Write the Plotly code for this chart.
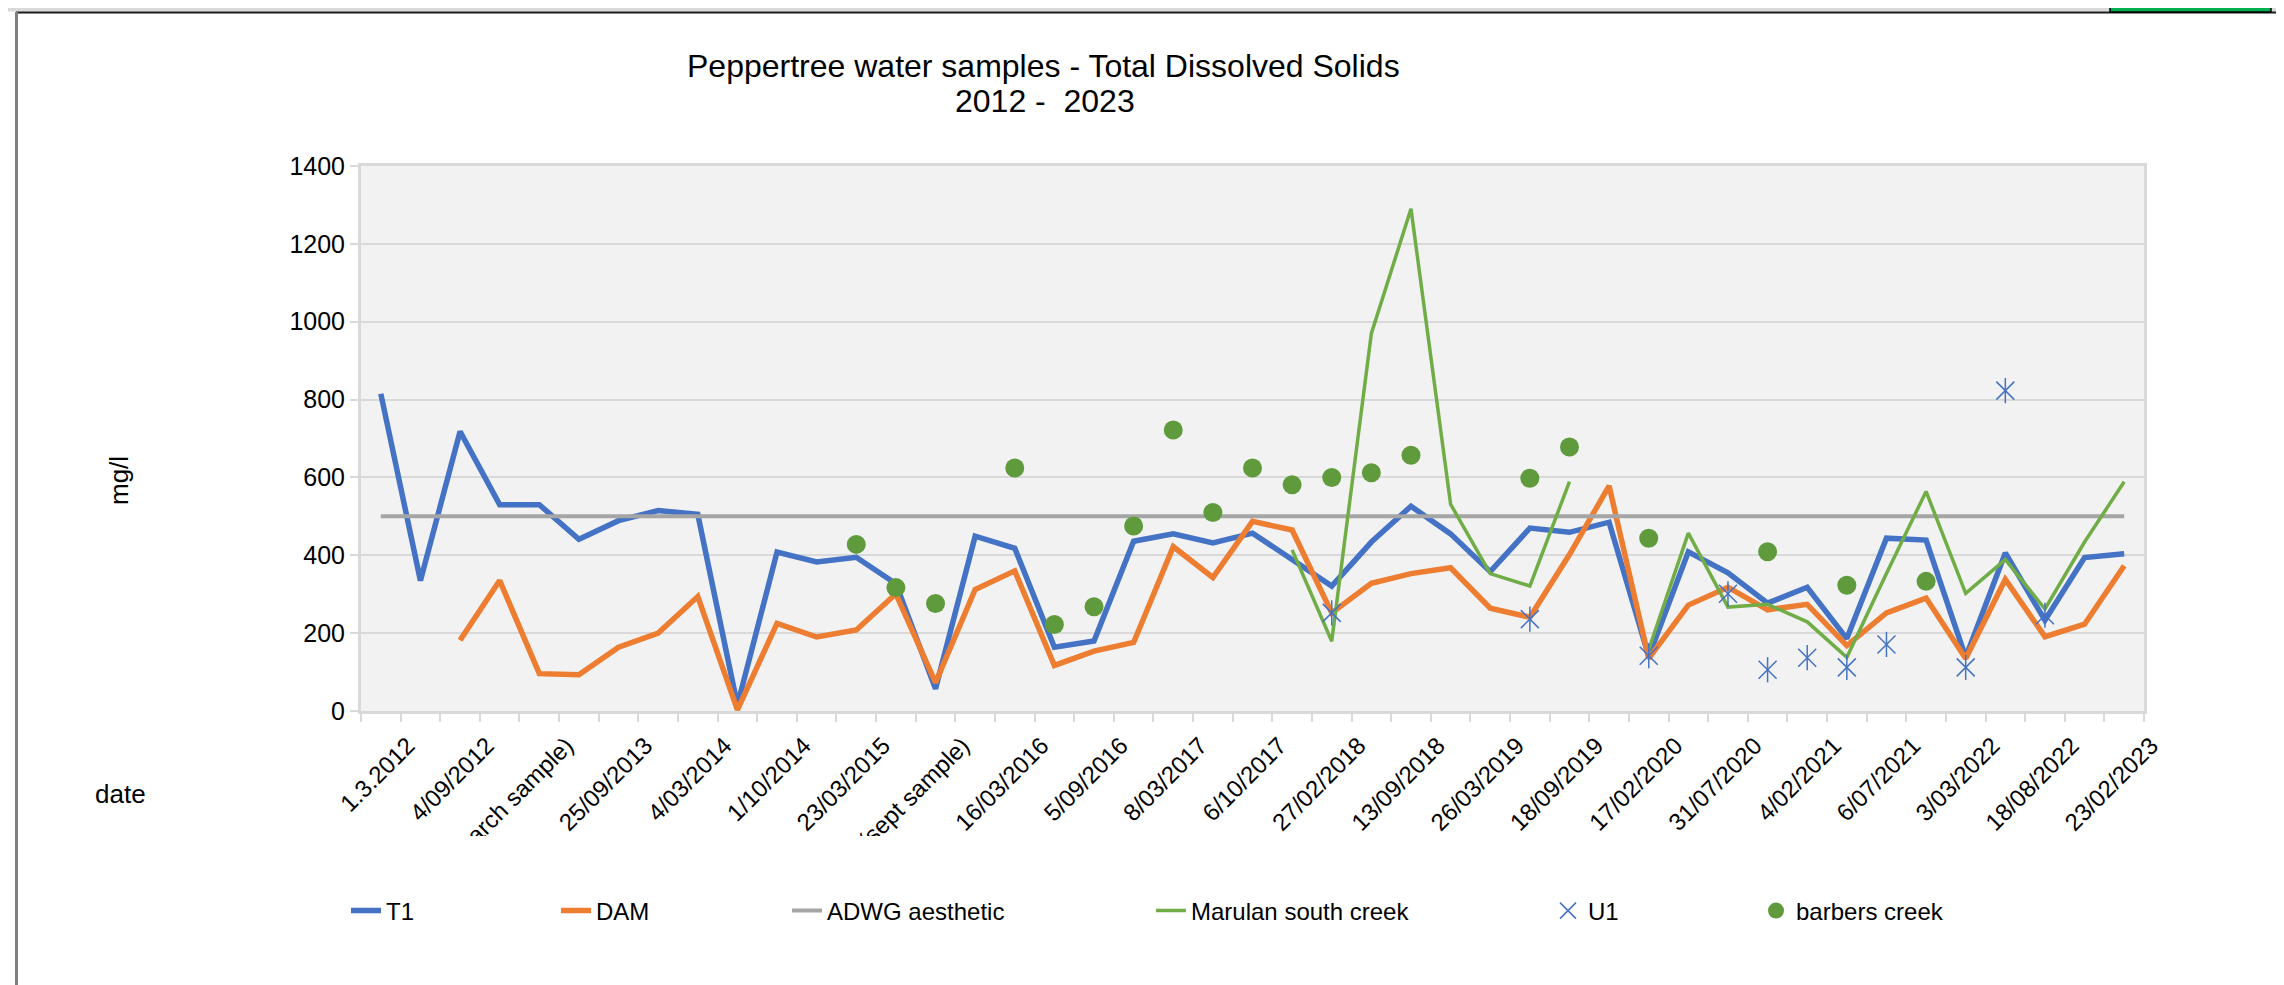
import plotly.graph_objects as go

# ---------------- data ----------------
tick_labels = ["1.3.2012", "4/09/2012", "(march sample)", "25/09/2013", "4/03/2014",
               "1/10/2014", "23/03/2015", "(sept sample)", "16/03/2016", "5/09/2016",
               "8/03/2017", "6/10/2017", "27/02/2018", "13/09/2018", "26/03/2019",
               "18/09/2019", "17/02/2020", "31/07/2020", "4/02/2021", "6/07/2021",
               "3/03/2022", "18/08/2022", "23/02/2023"]

t1 = [815, 335, 718, 530, 530, 441, 489, 515, 505, 15,
      408, 383, 395, 327, 57, 449, 418, 164, 180, 436,
      455, 432, 457, 389, 321, 434, 526, 455, 358, 470,
      459, 485, 140, 409, 355, 277, 318, 186, 444, 439,
      138, 406, 233, 394, 404]

dam = [None, None, 182, 335, 96, 93, 164, 200, 294, 3,
       225, 190, 208, 301, 73, 312, 360, 117, 154, 176,
       422, 343, 487, 465, 252, 328, 353, 368, 264, 241,
       402, 578, 135, 272, 318, 260, 274, 168, 252, 290,
       135, 338, 191, 223, 373]

adwg = [500] * 45

marulan = [None] * 23 + [414, 179, 970, 1290, 531, 353, 321, 589, None,
                         158, 457, 267, 274, 229, 138, 353, 564, 302, 389,
                         262, 434, 589]

u1 = [None] * 24 + [252, None, None, None, None, 236, None, None, 142, None,
                    301, 106, 137, 112, 171, None, 112, 823, 246, None, None]

barbers = [None] * 12 + [428, 317, 276, None, 624, 222, 268, 475, 722, 510,
                         624, 581, 600, 612, 657, None, None, 598, 678, None,
                         444, None, None, 409, None, 323, None, 333, None, None,
                         None, None, None]

samples = list(range(len(t1)))  # sample order along the category axis

# ---------------- layout geometry ----------------
W, H = 2284, 985
L, R, T, B = 353, 148, 158, 282
PW, PH = W - L - R, H - T - B
FONT = "Liberation Sans, Arial, sans-serif"
U1_BLUE = "#4472C4"


def px_x(px):
    return (px - L) / PW


def px_y(py):
    return 1 - (py - T) / PH


fig = go.Figure()
fig.add_trace(go.Scatter(x=samples, y=t1, mode="lines", name="T1",
                         line=dict(color="#4472C4", width=5.5), legend="legend"))
fig.add_trace(go.Scatter(x=samples, y=dam, mode="lines", name="DAM",
                         line=dict(color="#ED7D31", width=5.5), legend="legend2"))
fig.add_trace(go.Scatter(x=samples, y=adwg, mode="lines", name="ADWG aesthetic",
                         line=dict(color="#A5A5A5", width=4), legend="legend3"))
fig.add_trace(go.Scatter(x=samples, y=marulan, mode="lines", name="Marulan south creek",
                         line=dict(color="#70AD47", width=3.5), connectgaps=False,
                         legend="legend4"))
fig.add_trace(go.Scatter(x=samples, y=u1, mode="markers", name="U1",
                         marker=dict(symbol="x-thin-open", size=18, color=U1_BLUE,
                                     line=dict(color=U1_BLUE, width=1.5)),
                         legend="legend5"))
fig.add_trace(go.Scatter(x=samples, y=u1, mode="markers", name="U1", showlegend=False,
                         marker=dict(symbol="line-ns-open", size=18, color=U1_BLUE,
                                     line=dict(color=U1_BLUE, width=1.5)),
                         legend="legend5"))
fig.add_trace(go.Scatter(x=samples, y=barbers, mode="markers", name="barbers creek",
                         marker=dict(symbol="circle", size=19, color="#5F9B3D"),
                         legend="legend6"))

legend_common = dict(xref="container", yref="container", y=1 - 903 / H,
                     xanchor="left", yanchor="middle", orientation="h",
                     font=dict(family=FONT, size=24, color="black"),
                     bgcolor="rgba(0,0,0,0)", borderwidth=0)
legend_left_px = [338, 548, 779, 1143, 1540, 1748]
legends = {}
for i, lx in enumerate(legend_left_px):
    key = "legend" if i == 0 else f"legend{i + 1}"
    legends[key] = dict(legend_common, x=lx / W)

n = len(samples)
fig.update_layout(
    width=W, height=H,
    margin=dict(l=L, r=R, t=T, b=B, autoexpand=False),
    paper_bgcolor="white", plot_bgcolor="#F2F2F2",
    font=dict(family=FONT, size=24, color="black"),
    showlegend=True,
    xaxis=dict(range=[-0.5, n - 0.5], tickmode="array",
               tickvals=samples[::2], ticktext=tick_labels, tickangle=-45,
               ticks="outside", ticklen=8, tickcolor="rgba(0,0,0,0)",
               ticklabelshift=27,
               tickfont=dict(family=FONT, size=24, color="black"),
               showgrid=False, zeroline=False,
               showline=True, linecolor="#D9D9D9", linewidth=3, mirror=True,
               minor=dict(tickmode="array", tickvals=[k - 0.5 for k in range(n + 1)],
                          ticks="outside", ticklen=8, tickcolor="#D9D9D9", tickwidth=2,
                          showgrid=False)),
    yaxis=dict(range=[0, 1400], dtick=200, tick0=0,
               ticks="outside", ticklen=8, tickcolor="#D9D9D9", tickwidth=2,
               tickfont=dict(family=FONT, size=25, color="black"),
               showgrid=True, gridcolor="#D9D9D9", gridwidth=1.5,
               zeroline=False, showline=True, linecolor="#D9D9D9", linewidth=3,
               mirror=True),
    **legends,
)

# title and axis titles
fig.add_annotation(text="Peppertree water samples - Total Dissolved Solids",
                   x=px_x(1035), y=px_y(58), xref="paper", yref="paper",
                   showarrow=False, xanchor="center", yanchor="middle",
                   font=dict(family=FONT, size=32, color="black"))
fig.add_annotation(text="2012 -\u00a0 2023",
                   x=px_x(1037), y=px_y(93), xref="paper", yref="paper",
                   showarrow=False, xanchor="center", yanchor="middle",
                   font=dict(family=FONT, size=32, color="black"))
fig.add_annotation(text="mg/l", textangle=-90,
                   x=px_x(111), y=px_y(473), xref="paper", yref="paper",
                   showarrow=False, xanchor="center", yanchor="middle",
                   font=dict(family=FONT, size=26, color="black"))
fig.add_annotation(text="date",
                   x=px_x(112), y=px_y(786), xref="paper", yref="paper",
                   showarrow=False, xanchor="center", yanchor="middle",
                   font=dict(family=FONT, size=26, color="black"))

# label clipping band (Excel clips long category labels) and chart frame
shapes = [
    dict(type="rect", xref="paper", yref="paper", layer="above",
         x0=px_x(250), x1=px_x(2250), y0=px_y(828), y1=px_y(878),
         fillcolor="white", line=dict(width=0)),
    dict(type="rect", xref="paper", yref="paper", layer="above",
         x0=px_x(0), x1=px_x(W), y0=px_y(0), y1=px_y(3.5),
         fillcolor="#D9D9D9", line=dict(width=0)),
    dict(type="line", xref="paper", yref="paper", layer="above",
         x0=px_x(8), x1=px_x(2281), y0=px_y(4.5), y1=px_y(4.5),
         line=dict(color="#1A1A1A", width=2)),
    dict(type="line", xref="paper", yref="paper", layer="above",
         x0=px_x(8.5), x1=px_x(8.5), y0=px_y(4), y1=px_y(H),
         line=dict(color="#7F7F7F", width=3)),
    dict(type="line", xref="paper", yref="paper", layer="above",
         x0=px_x(2281), x1=px_x(2281), y0=px_y(4), y1=px_y(H),
         line=dict(color="#262626", width=2)),
    dict(type="rect", xref="paper", yref="paper", layer="above",
         x0=px_x(2102), x1=px_x(2263), y0=px_y(-2), y1=px_y(4),
         fillcolor="#00B050", line=dict(color="black", width=1.5)),
]
fig.update_layout(shapes=shapes)

fig.write_html("out.html")
